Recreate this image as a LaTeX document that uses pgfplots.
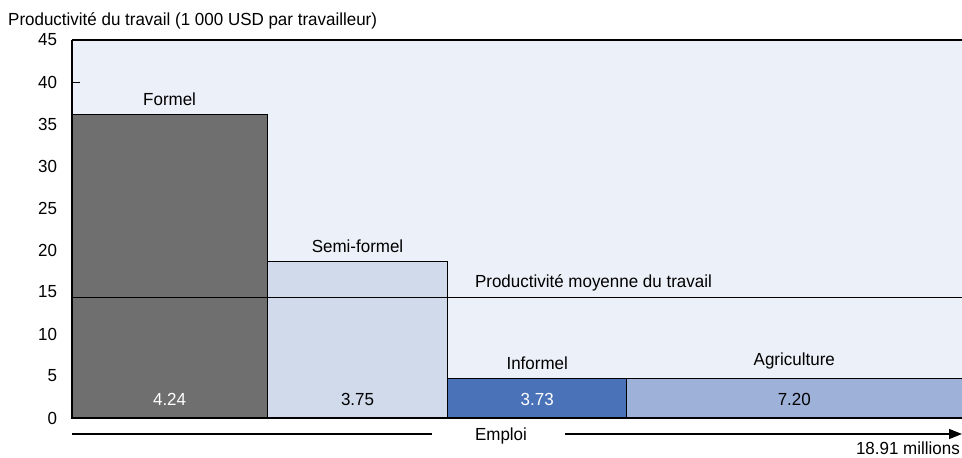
\documentclass[border=0pt]{standalone}
\usepackage{fontspec}
\setmainfont[FakeStretch=0.97]{Liberation Sans}
\usepackage{pgfplots}
\pgfplotsset{compat=1.18}
\usetikzlibrary{arrows.meta}
\definecolor{bgcol}{HTML}{ECF0F8}
\definecolor{cformel}{HTML}{6F6F6F}
\definecolor{csemi}{HTML}{D0DAEB}
\definecolor{cinf}{HTML}{4A72B8}
\definecolor{cagri}{HTML}{9DB1D9}
\begin{document}
\fontsize{17.5}{21}\selectfont
\begin{tikzpicture}[font=\fontsize{17.5}{21}\selectfont]
\useasboundingbox (-72pt,-40pt) rectangle (890pt,418pt);
\begin{axis}[
  at={(0,0)}, anchor=south west,
  scale only axis, width=890pt, height=378pt,
  xmin=0, xmax=18.92, ymin=0, ymax=45,
  axis background/.style={fill=bgcol},
  axis line style={draw=none},
  xtick=\empty,
  ytick={0,5,...,45},
  ytick pos=left,
  tick align=inside, major tick length=8pt,
  ytick style={black, line width=0.8pt},
  yticklabel style={xshift=-9pt},
  /pgf/number format/assume math mode=true,
  ticklabel style={font=\fontsize{17.5}{21}\selectfont},
  clip=false,
]
\addplot[fill=cformel, draw=black, line width=0.8pt] coordinates {(0,36.1) (4.15,36.1)} \closedcycle;
\addplot[fill=csemi, draw=black, line width=0.8pt] coordinates {(4.15,18.6) (7.99,18.6)} \closedcycle;
\addplot[fill=cinf, draw=black, line width=0.8pt] coordinates {(7.99,4.72) (11.79,4.72)} \closedcycle;
\addplot[fill=cagri, draw=black, line width=0.8pt] coordinates {(11.79,4.72) (18.92,4.72)} \closedcycle;
\addplot[black, line width=1.3pt] coordinates {(0,14.37) (18.92,14.37)};
\draw[black, line width=2pt] (rel axis cs:0,1) -- (rel axis cs:1,1);
\draw[black, line width=1.6pt] (rel axis cs:0,1) -- (rel axis cs:0,0) -- (rel axis cs:1,0);
\node[anchor=south, yshift=3pt] at (axis cs:2.075,36.1) {Formel};
\node[anchor=south, yshift=3pt] at (axis cs:6.07,18.6) {Semi-formel};
\node[anchor=south, yshift=3pt] at (axis cs:9.89,4.72) {Informel};
\node[anchor=south, yshift=3pt] at (axis cs:15.355,4.72) {Agriculture};
\node[anchor=south west, yshift=0pt] at (axis cs:8.44,14.37) {Productivité moyenne du travail};
\node[white] at (axis cs:2.075,2.26) {4.24};
\node at (axis cs:6.07,2.26) {3.75};
\node[white] at (axis cs:9.89,2.26) {3.73};
\node at (axis cs:15.355,2.26) {7.20};
\end{axis}
\node[anchor=base west, inner sep=0pt] at (-64pt,392pt) {Productivité du travail (1 000 USD par travailleur)};
\draw[black, line width=1.3pt] (0pt,-16pt) -- (360pt,-16pt);
\draw[black, line width=1.3pt, -{Triangle[length=13pt,width=10pt]}] (493pt,-16pt) -- (890pt,-16pt);
\node[anchor=base, inner sep=0pt] at (429pt,-23pt) {Emploi};
\node[anchor=base east, inner sep=0pt] at (888pt,-37pt) {18.91 millions};
\end{tikzpicture}
\end{document}
